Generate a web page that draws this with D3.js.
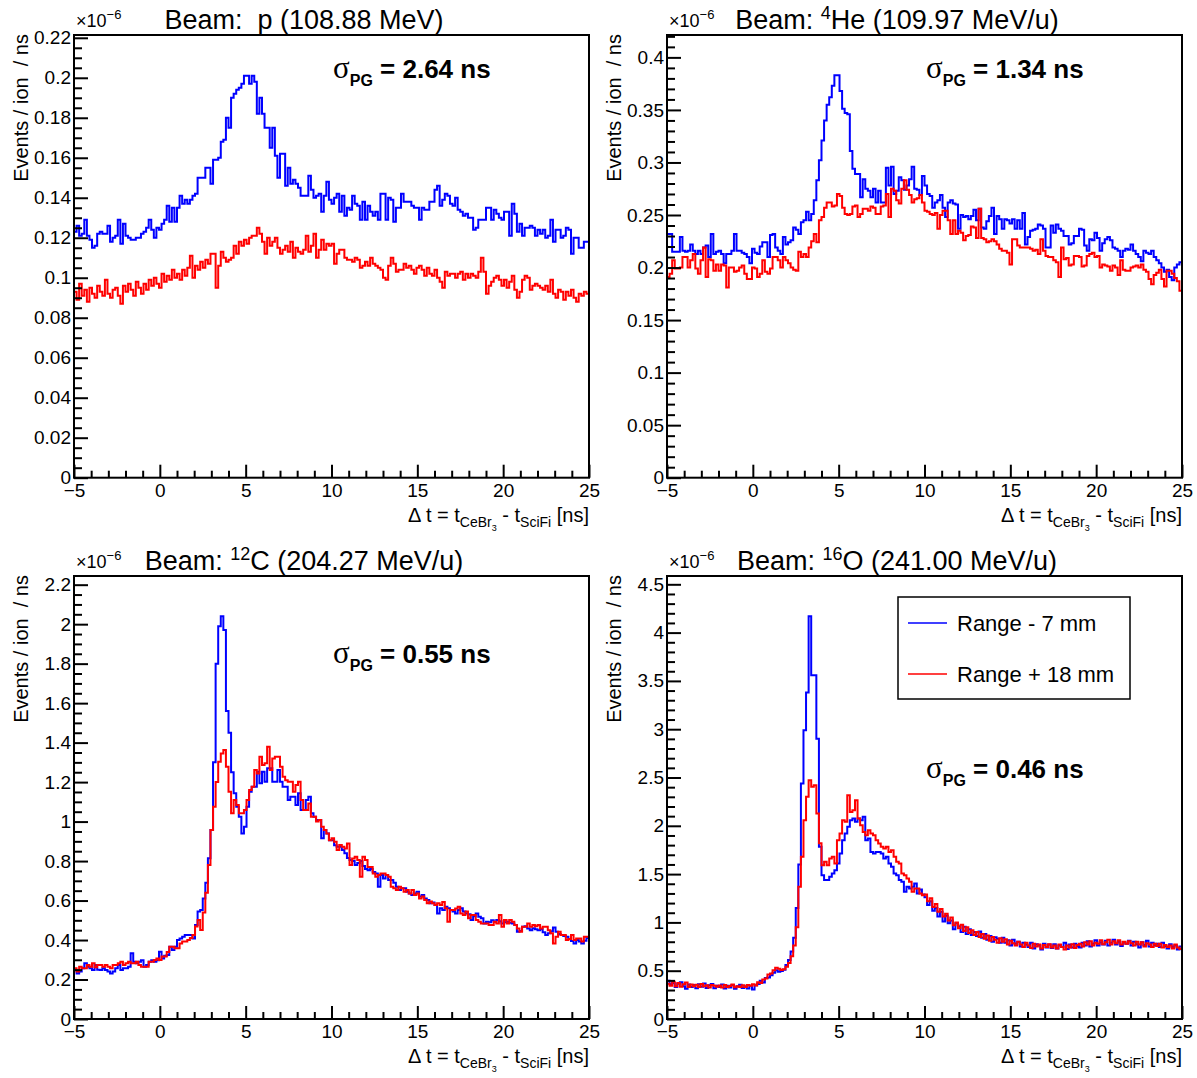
<!DOCTYPE html>
<html>
<head>
<meta charset="utf-8">
<script src="https://cdn.jsdelivr.net/npm/d3@7"></script>
<style>
  body { margin: 0; background: #fff; }
  svg text { font-family: "Liberation Sans", Arial, Helvetica, sans-serif; white-space: pre; fill: #000; }
</style>
</head>
<body>
<svg id="chart" width="1197" height="1078"></svg>
<script>
// Time axis: Δt = t(CeBr3) - t(SciFi) in ns, 200 bins of 0.15 ns
const timeRange = [-5, 25];
const xTicks = [-5, 0, 5, 10, 15, 20, 25];

// Y-axis tick labels (units of 1e-6 events / ion / ns)
const pTicks  = [0, 0.02, 0.04, 0.06, 0.08, 0.1, 0.12, 0.14, 0.16, 0.18, 0.2, 0.22];
const heTicks = [0, 0.05, 0.1, 0.15, 0.2, 0.25, 0.3, 0.35, 0.4];
const cTicks  = [0, 0.2, 0.4, 0.6, 0.8, 1, 1.2, 1.4, 1.6, 1.8, 2, 2.2];
const oTicks  = [0, 0.5, 1, 1.5, 2, 2.5, 3, 3.5, 4, 4.5];

const seriesLabels = ["Range - 7 mm", "Range + 18 mm"];
const sigmaPG = ["2.64", "1.34", "0.55", "0.46"];

// ---- proton, 108.88 MeV ----
const pBlue = [
0.123,0.126,0.121,0.122,0.129,0.121,0.119,0.115,0.116,0.122,
0.123,0.122,0.122,0.126,0.118,0.120,0.121,0.129,0.117,0.127,
0.121,0.120,0.119,0.119,0.120,0.120,0.122,0.123,0.125,0.129,
0.124,0.120,0.125,0.124,0.127,0.129,0.136,0.128,0.135,0.128,
0.135,0.141,0.137,0.139,0.137,0.139,0.141,0.142,0.150,0.150,
0.150,0.155,0.155,0.147,0.159,0.159,0.160,0.168,0.169,0.180,
0.175,0.190,0.192,0.194,0.195,0.197,0.201,0.201,0.197,0.201,
0.198,0.182,0.190,0.182,0.175,0.175,0.165,0.175,0.161,0.150,
0.162,0.162,0.146,0.155,0.147,0.149,0.147,0.145,0.141,0.141,
0.141,0.151,0.144,0.140,0.141,0.142,0.133,0.141,0.148,0.139,
0.137,0.140,0.142,0.133,0.141,0.131,0.135,0.134,0.141,0.137,
0.136,0.129,0.138,0.129,0.136,0.133,0.131,0.133,0.129,0.142,
0.142,0.129,0.140,0.139,0.128,0.135,0.135,0.142,0.138,0.138,
0.138,0.136,0.135,0.135,0.129,0.135,0.134,0.134,0.138,0.138,
0.144,0.146,0.136,0.139,0.142,0.141,0.137,0.136,0.140,0.134,
0.133,0.131,0.132,0.130,0.130,0.124,0.125,0.129,0.129,0.129,
0.135,0.135,0.129,0.134,0.132,0.130,0.129,0.133,0.133,0.121,
0.137,0.132,0.123,0.127,0.121,0.125,0.125,0.126,0.125,0.121,
0.124,0.122,0.124,0.120,0.121,0.129,0.118,0.124,0.124,0.120,
0.121,0.125,0.124,0.112,0.120,0.120,0.115,0.115,0.118,0.118];
const pRed = [
0.093,0.089,0.097,0.091,0.094,0.088,0.095,0.092,0.090,0.096,
0.093,0.091,0.099,0.092,0.090,0.094,0.095,0.091,0.087,0.096,
0.093,0.097,0.094,0.091,0.098,0.095,0.092,0.097,0.094,0.099,
0.096,0.100,0.097,0.095,0.102,0.098,0.101,0.099,0.104,0.100,
0.102,0.099,0.104,0.101,0.105,0.111,0.100,0.106,0.104,0.108,
0.105,0.109,0.107,0.112,0.112,0.095,0.106,0.113,0.110,0.108,
0.109,0.110,0.116,0.112,0.118,0.116,0.119,0.117,0.120,0.121,
0.121,0.125,0.122,0.118,0.112,0.120,0.116,0.118,0.120,0.115,
0.112,0.114,0.116,0.113,0.118,0.110,0.115,0.113,0.112,0.114,
0.121,0.113,0.116,0.122,0.110,0.114,0.119,0.114,0.117,0.116,
0.117,0.107,0.112,0.114,0.114,0.110,0.109,0.109,0.108,0.110,
0.109,0.105,0.106,0.108,0.106,0.110,0.107,0.106,0.105,0.104,
0.100,0.099,0.106,0.110,0.107,0.103,0.104,0.104,0.107,0.105,
0.106,0.104,0.102,0.105,0.106,0.104,0.101,0.105,0.102,0.101,
0.104,0.100,0.098,0.095,0.103,0.101,0.102,0.102,0.100,0.102,
0.103,0.099,0.102,0.100,0.102,0.101,0.100,0.103,0.110,0.103,
0.092,0.096,0.098,0.100,0.101,0.099,0.096,0.099,0.095,0.098,
0.101,0.094,0.090,0.093,0.099,0.101,0.100,0.094,0.096,0.097,
0.096,0.095,0.094,0.096,0.093,0.099,0.092,0.090,0.094,0.093,
0.089,0.093,0.091,0.094,0.090,0.088,0.092,0.091,0.093,0.092];

// ---- 4He, 109.97 MeV/u ----
const heBlue = [
0.232,0.232,0.215,0.215,0.215,0.229,0.216,0.215,0.216,0.222,
0.216,0.213,0.216,0.213,0.219,0.221,0.210,0.232,0.213,0.215,
0.216,0.213,0.204,0.213,0.213,0.216,0.232,0.216,0.216,0.214,
0.213,0.210,0.204,0.218,0.214,0.213,0.220,0.224,0.224,0.210,
0.231,0.232,0.219,0.216,0.213,0.229,0.222,0.224,0.226,0.238,
0.236,0.232,0.243,0.245,0.253,0.245,0.251,0.264,0.283,0.302,
0.321,0.340,0.355,0.362,0.373,0.383,0.383,0.368,0.351,0.347,
0.346,0.311,0.294,0.289,0.289,0.267,0.284,0.275,0.273,0.267,
0.275,0.262,0.273,0.262,0.262,0.295,0.278,0.296,0.270,0.273,
0.286,0.283,0.274,0.278,0.284,0.296,0.275,0.274,0.269,0.287,
0.278,0.270,0.268,0.257,0.262,0.264,0.269,0.257,0.248,0.262,
0.264,0.261,0.260,0.237,0.250,0.248,0.249,0.246,0.249,0.255,
0.245,0.256,0.238,0.237,0.244,0.249,0.257,0.232,0.249,0.246,
0.237,0.246,0.245,0.242,0.246,0.237,0.245,0.237,0.252,0.222,
0.229,0.235,0.236,0.237,0.241,0.240,0.237,0.219,0.219,0.240,
0.233,0.241,0.237,0.235,0.230,0.230,0.222,0.223,0.230,0.230,
0.237,0.236,0.221,0.216,0.227,0.226,0.233,0.228,0.216,0.223,
0.227,0.229,0.226,0.219,0.218,0.216,0.210,0.216,0.218,0.217,
0.222,0.216,0.213,0.210,0.206,0.216,0.214,0.213,0.216,0.210,
0.207,0.204,0.200,0.196,0.198,0.191,0.188,0.200,0.203,0.205];
const heRed = [
0.191,0.194,0.207,0.199,0.199,0.200,0.210,0.210,0.200,0.207,
0.213,0.199,0.194,0.207,0.219,0.191,0.208,0.207,0.197,0.203,
0.197,0.203,0.202,0.181,0.200,0.200,0.196,0.197,0.200,0.202,
0.194,0.189,0.189,0.200,0.199,0.191,0.194,0.207,0.196,0.194,
0.199,0.210,0.210,0.207,0.200,0.210,0.207,0.204,0.200,0.198,
0.197,0.215,0.210,0.213,0.210,0.219,0.225,0.232,0.224,0.245,
0.248,0.257,0.262,0.262,0.258,0.259,0.270,0.268,0.257,0.251,
0.250,0.251,0.258,0.259,0.248,0.251,0.256,0.256,0.254,0.258,
0.257,0.251,0.251,0.258,0.259,0.270,0.248,0.275,0.273,0.264,
0.261,0.275,0.283,0.274,0.269,0.262,0.265,0.266,0.269,0.262,
0.254,0.253,0.251,0.250,0.252,0.237,0.250,0.254,0.254,0.245,
0.232,0.245,0.232,0.235,0.233,0.226,0.230,0.231,0.239,0.238,
0.228,0.256,0.228,0.227,0.224,0.225,0.227,0.225,0.222,0.218,
0.216,0.216,0.214,0.203,0.227,0.227,0.221,0.219,0.219,0.219,
0.219,0.218,0.216,0.217,0.213,0.227,0.216,0.211,0.210,0.210,
0.207,0.205,0.191,0.219,0.208,0.209,0.202,0.203,0.211,0.211,
0.210,0.201,0.202,0.211,0.213,0.214,0.210,0.211,0.200,0.203,
0.202,0.201,0.197,0.202,0.200,0.193,0.207,0.198,0.197,0.197,
0.200,0.201,0.202,0.200,0.203,0.198,0.196,0.189,0.184,0.193,
0.195,0.198,0.189,0.182,0.197,0.197,0.194,0.190,0.187,0.178];

// ---- 12C, 204.27 MeV/u ----
const cBlue = [
0.248,0.231,0.240,0.257,0.282,0.265,0.257,0.248,0.273,0.250,
0.248,0.257,0.248,0.240,0.231,0.240,0.257,0.273,0.248,0.257,
0.257,0.265,0.333,0.290,0.282,0.290,0.298,0.265,0.273,0.290,
0.298,0.290,0.298,0.341,0.307,0.320,0.324,0.366,0.349,0.366,
0.400,0.408,0.417,0.425,0.425,0.425,0.408,0.476,0.545,0.552,
0.611,0.690,0.814,0.958,1.300,1.800,1.990,2.040,1.970,1.560,
1.450,1.250,1.143,1.075,1.024,0.940,0.974,1.075,1.151,1.177,
1.177,1.253,1.194,1.253,1.202,1.270,1.270,1.202,1.202,1.261,
1.202,1.177,1.177,1.109,1.126,1.126,1.084,1.143,1.059,1.059,
1.109,1.126,1.042,1.024,1.008,1.008,0.915,0.957,0.940,0.906,
0.905,0.880,0.873,0.873,0.856,0.839,0.815,0.805,0.800,0.780,
0.790,0.800,0.775,0.760,0.754,0.760,0.745,0.737,0.670,0.729,
0.712,0.729,0.704,0.704,0.690,0.670,0.653,0.662,0.662,0.645,
0.636,0.628,0.636,0.645,0.620,0.628,0.611,0.603,0.586,0.590,
0.578,0.535,0.561,0.552,0.569,0.561,0.552,0.544,0.535,0.552,
0.561,0.544,0.535,0.530,0.501,0.520,0.535,0.518,0.510,0.484,
0.493,0.490,0.500,0.493,0.501,0.495,0.484,0.490,0.493,0.487,
0.484,0.476,0.442,0.446,0.467,0.470,0.459,0.450,0.460,0.455,
0.450,0.455,0.440,0.425,0.434,0.445,0.464,0.442,0.430,0.425,
0.420,0.417,0.405,0.395,0.383,0.400,0.392,0.383,0.397,0.410];
const cRed = [
0.257,0.240,0.265,0.257,0.257,0.273,0.265,0.282,0.262,0.273,
0.273,0.265,0.273,0.265,0.257,0.273,0.273,0.282,0.290,0.273,
0.282,0.290,0.282,0.282,0.290,0.273,0.265,0.265,0.265,0.290,
0.290,0.299,0.307,0.299,0.316,0.316,0.340,0.366,0.366,0.358,
0.358,0.383,0.392,0.392,0.400,0.410,0.425,0.468,0.501,0.451,
0.540,0.640,0.780,0.957,1.075,1.200,1.303,1.345,1.362,1.278,
1.151,1.042,1.109,1.084,1.042,1.042,1.059,1.109,1.160,1.177,
1.261,1.244,1.328,1.287,1.295,1.379,1.261,1.320,1.328,1.328,
1.278,1.227,1.210,1.202,1.202,1.151,1.185,1.202,1.109,1.059,
1.059,1.092,1.024,1.024,1.000,1.008,0.974,0.957,0.940,0.906,
0.915,0.898,0.856,0.881,0.873,0.864,0.889,0.780,0.813,0.822,
0.805,0.720,0.822,0.805,0.770,0.770,0.737,0.720,0.729,0.737,
0.737,0.729,0.720,0.670,0.662,0.653,0.670,0.662,0.645,0.653,
0.636,0.653,0.628,0.636,0.611,0.620,0.603,0.586,0.595,0.586,
0.578,0.586,0.578,0.593,0.561,0.493,0.552,0.552,0.560,0.569,
0.535,0.527,0.544,0.510,0.527,0.527,0.501,0.493,0.484,0.484,
0.484,0.476,0.476,0.493,0.484,0.527,0.467,0.501,0.484,0.501,
0.493,0.476,0.459,0.442,0.467,0.467,0.484,0.467,0.476,0.470,
0.476,0.459,0.467,0.467,0.450,0.434,0.383,0.417,0.442,0.425,
0.425,0.400,0.405,0.425,0.400,0.408,0.408,0.392,0.417,0.417];

// ---- 16O, 241.00 MeV/u ----
const oBlue = [
0.395,0.360,0.372,0.330,0.365,0.380,0.338,0.312,0.358,0.332,
0.352,0.318,0.360,0.335,0.368,0.322,0.350,0.362,0.318,0.345,
0.330,0.358,0.316,0.345,0.325,0.352,0.312,0.340,0.355,0.320,
0.340,0.315,0.345,0.305,0.350,0.362,0.395,0.378,0.425,0.430,
0.452,0.478,0.505,0.490,0.498,0.510,0.560,0.610,0.700,0.840,
1.150,1.600,2.438,2.990,3.380,4.169,3.559,3.559,2.900,1.782,
1.489,1.438,1.438,1.472,1.506,1.541,1.610,1.713,1.851,1.920,
1.989,2.058,2.075,2.041,2.075,2.058,2.093,1.851,1.868,1.730,
1.713,1.730,1.730,1.713,1.661,1.679,1.610,1.575,1.506,1.489,
1.438,1.420,1.317,1.368,1.351,1.368,1.403,1.300,1.340,1.290,
1.260,1.180,1.220,1.120,1.150,1.060,1.110,1.010,1.070,0.990,
1.020,0.930,0.990,0.960,0.900,0.955,0.880,0.930,0.870,0.900,
0.860,0.905,0.840,0.880,0.820,0.860,0.800,0.845,0.830,0.790,
0.840,0.790,0.815,0.760,0.820,0.780,0.800,0.750,0.790,0.770,
0.745,0.790,0.730,0.775,0.760,0.720,0.780,0.740,0.770,0.735,
0.775,0.730,0.760,0.745,0.790,0.725,0.770,0.740,0.780,0.750,
0.740,0.790,0.760,0.805,0.750,0.780,0.815,0.760,0.795,0.770,
0.810,0.760,0.790,0.820,0.770,0.800,0.755,0.795,0.780,0.810,
0.760,0.800,0.775,0.740,0.795,0.765,0.810,0.750,0.790,0.760,
0.780,0.745,0.790,0.755,0.730,0.775,0.745,0.760,0.720,0.750];
const oRed = [
0.365,0.345,0.385,0.340,0.372,0.335,0.360,0.378,0.330,0.358,
0.340,0.355,0.332,0.362,0.338,0.350,0.325,0.352,0.345,0.335,
0.348,0.325,0.352,0.330,0.342,0.358,0.328,0.340,0.332,0.350,
0.330,0.352,0.345,0.360,0.348,0.380,0.372,0.410,0.420,0.460,
0.470,0.505,0.530,0.520,0.506,0.515,0.540,0.580,0.650,0.760,
0.950,1.368,1.679,2.058,2.300,2.472,2.403,2.420,2.127,1.820,
1.592,1.627,1.592,1.661,1.679,1.610,1.851,1.920,2.058,2.041,
2.317,2.144,2.160,2.265,2.075,2.006,1.937,1.903,1.955,1.920,
1.903,1.851,1.817,1.782,1.765,1.782,1.730,1.748,1.679,1.627,
1.610,1.506,1.489,1.455,1.420,1.317,1.351,1.351,1.300,1.282,
1.290,1.220,1.250,1.160,1.190,1.110,1.140,1.060,1.090,1.020,
1.050,0.970,1.000,0.940,0.975,0.910,0.950,0.890,0.920,0.870,
0.900,0.850,0.880,0.830,0.865,0.810,0.850,0.820,0.790,0.835,
0.800,0.825,0.770,0.810,0.785,0.760,0.800,0.770,0.745,0.790,
0.760,0.735,0.780,0.750,0.770,0.730,0.765,0.745,0.775,0.740,
0.760,0.730,0.770,0.745,0.720,0.760,0.740,0.775,0.735,0.765,
0.780,0.750,0.795,0.770,0.805,0.760,0.790,0.780,0.815,0.775,
0.795,0.820,0.770,0.805,0.785,0.815,0.770,0.800,0.780,0.805,
0.785,0.760,0.800,0.770,0.795,0.750,0.785,0.770,0.745,0.780,
0.755,0.780,0.740,0.765,0.745,0.760,0.730,0.770,0.740,0.725];

// ---- pad layout ----
const COL = [{x0: 74, x1: 589}, {x0: 667, x1: 1182}];
const ROW = [{y0: 35, y1: 477.7}, {y0: 576, y1: 1019}];

const pads = [
  { col: 0, row: 0, ymax: 0.2214, ticks: pTicks,  minor: 0.005, blue: pBlue,  red: pRed,
    title: [{t: "Beam:  p (108.88 MeV)"}], sigma: sigmaPG[0], sigmaY: 78 },
  { col: 1, row: 0, ymax: 0.4213, ticks: heTicks, minor: 0.01,  blue: heBlue, red: heRed,
    title: [{t: "Beam: "}, {t: "4", size: 18, shift: -10}, {t: "He (109.97 MeV/u)"}], sigma: sigmaPG[1], sigmaY: 78 },
  { col: 0, row: 1, ymax: 2.244,  ticks: cTicks,  minor: 0.05,  blue: cBlue,  red: cRed,
    title: [{t: "Beam: "}, {t: "12", size: 18, shift: -10}, {t: "C (204.27 MeV/u)"}], sigma: sigmaPG[2], sigmaY: 663 },
  { col: 1, row: 1, ymax: 4.586,  ticks: oTicks,  minor: 0.1,   blue: oBlue,  red: oRed,
    title: [{t: "Beam: "}, {t: "16", size: 18, shift: -10}, {t: "O (241.00 MeV/u)"}], sigma: sigmaPG[3], sigmaY: 778,
    legend: true }
];

const svg = d3.select("#chart");

// Appends tspans with sub/superscript shifts (shift > 0 moves down)
function richText(sel, parts, baseSize) {
  let cur = 0;
  parts.forEach(p => {
    const s = p.shift || 0;
    const ts = sel.append("tspan").text(p.t)
      .attr("dy", s - cur)
      .attr("font-size", p.size || baseSize);
    if (p.weight) ts.attr("font-weight", p.weight);
    if (p.family) ts.attr("font-family", p.family);
    cur = s;
  });
}

// Histogram outline as step points: left edge of each bin + final right edge
function stepPoints(vals) {
  const w = (timeRange[1] - timeRange[0]) / vals.length;
  const pts = vals.map((v, i) => [timeRange[0] + i * w, v]);
  pts.push([timeRange[1], vals[vals.length - 1]]);
  return pts;
}

const fmt = v => {
  const s = String(+v.toFixed(4));
  return v < 0 ? "\u2212" + s.slice(1) : s;
};

pads.forEach(P => {
  const { x0, x1 } = COL[P.col];
  const { y0, y1 } = ROW[P.row];
  const g = svg.append("g");

  const x = d3.scaleLinear().domain(timeRange).range([x0, x1]);
  const y = d3.scaleLinear().domain([0, P.ymax]).range([y1, y0]);

  // histograms
  const line = d3.line().x(d => x(d[0])).y(d => y(d[1])).curve(d3.curveStepAfter);
  [[P.blue, "#0000ff"], [P.red, "#ff0000"]].forEach(([vals, col]) => {
    g.append("path")
      .attr("d", line(stepPoints(vals)))
      .attr("fill", "none")
      .attr("stroke", col)
      .attr("stroke-width", 2)
      .attr("stroke-linejoin", "miter");
  });

  // x axis: major + minor ticks pointing inward
  const xMinor = d3.range(timeRange[0], timeRange[1] + 0.001, 1).filter(v => !xTicks.includes(v));
  const gxMin = g.append("g").attr("transform", `translate(0,${y1})`)
    .call(d3.axisBottom(x).tickValues(xMinor).tickSize(-7).tickFormat(""));
  const gxMaj = g.append("g").attr("transform", `translate(0,${y1})`)
    .call(d3.axisBottom(x).tickValues(xTicks).tickSize(-13).tickPadding(6).tickFormat(fmt));

  // y axis
  const yMinor = d3.range(0, P.ymax + 1e-9, P.minor)
    .filter(v => !P.ticks.some(t => Math.abs(t - v) < P.minor / 10));
  const gyMin = g.append("g").attr("transform", `translate(${x0},0)`)
    .call(d3.axisLeft(y).tickValues(yMinor).tickSize(-8).tickFormat(""));
  const gyMaj = g.append("g").attr("transform", `translate(${x0},0)`)
    .call(d3.axisLeft(y).tickValues(P.ticks).tickSize(-14).tickPadding(3).tickFormat(fmt));

  [gxMin, gxMaj, gyMin, gyMaj].forEach(a => {
    a.select(".domain").remove();
    a.selectAll("line").attr("stroke", "#000").attr("stroke-width", 2);
    a.selectAll("text").attr("font-size", 19).attr("fill", "#000")
      .attr("font-family", "Liberation Sans, Arial, sans-serif");
  });

  // frame
  g.append("rect").attr("x", x0).attr("y", y0).attr("width", x1 - x0).attr("height", y1 - y0)
    .attr("fill", "none").attr("stroke", "#000").attr("stroke-width", 2);

  // exponent label
  const ex = g.append("text").attr("x", x0 + 2).attr("y", y0 - 8);
  richText(ex, [{t: "\u00d710"}, {t: "\u22126", size: 13, shift: -8}], 18);

  // title
  const tt = g.append("text").attr("x", x0 + 230).attr("y", y0 - 6).attr("text-anchor", "middle");
  richText(tt, P.title, 27);

  // y title
  g.append("text")
    .attr("transform", `translate(${x0 - 46},${y0 - 1}) rotate(-90)`)
    .attr("text-anchor", "end").attr("font-size", 20)
    .text("Events / ion  / ns");

  // x title
  const xt = g.append("text").attr("x", x1).attr("y", y1 + 44).attr("text-anchor", "end");
  richText(xt, [
    {t: "\u0394 t = t"},
    {t: "CeBr", size: 14, shift: 5},
    {t: "3", size: 9, shift: 9},
    {t: " - t"},
    {t: "SciFi", size: 14, shift: 5},
    {t: " [ns]"}
  ], 20);

  // sigma annotation
  const st = g.append("text").attr("x", x0 + 259).attr("y", P.sigmaY);
  richText(st, [
    {t: "\u03c3", size: 31, family: "Liberation Serif, Times New Roman, serif"},
    {t: "PG", size: 16, weight: "bold", shift: 8},
    {t: " = " + P.sigma + " ns", size: 26, weight: "bold"}
  ], 26);

  // legend
  if (P.legend) {
    const lg = g.append("g");
    lg.append("rect").attr("x", 898).attr("y", 597).attr("width", 232).attr("height", 102)
      .attr("fill", "#fff").attr("stroke", "#000").attr("stroke-width", 1.5);
    [["#0000ff", 623], ["#ff0000", 674]].forEach(([col, ly], i) => {
      lg.append("line").attr("x1", 908).attr("x2", 947).attr("y1", ly).attr("y2", ly)
        .attr("stroke", col).attr("stroke-width", 1.5);
      lg.append("text").attr("x", 957).attr("y", ly + 8).attr("font-size", 22).text(seriesLabels[i]);
    });
  }
});
</script>
</body>
</html>
